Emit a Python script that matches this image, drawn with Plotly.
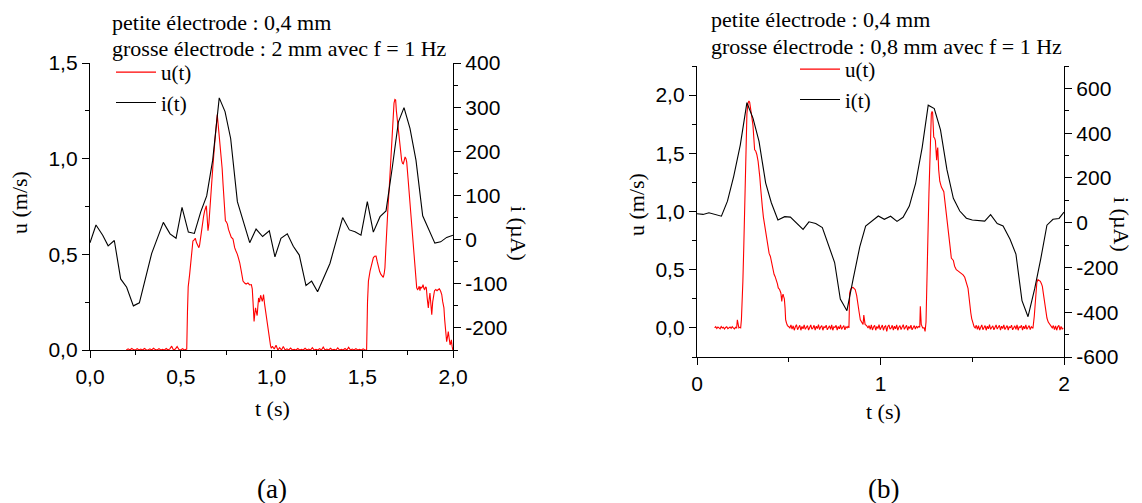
import plotly.graph_objects as go

W, H = 1142, 503

# ================= Panel (a) =================
# current i(t) in µA
a_i_t = [0.0, 0.033, 0.07, 0.10, 0.134, 0.169, 0.202, 0.239, 0.272, 0.34,
         0.404, 0.441, 0.474, 0.507, 0.542, 0.575, 0.61, 0.643, 0.676, 0.712,
         0.744, 0.775, 0.812, 0.88, 0.915, 0.951, 0.988, 1.019, 1.052, 1.087,
         1.12, 1.153, 1.19, 1.221, 1.254, 1.322, 1.392, 1.429, 1.46, 1.493,
         1.528, 1.561, 1.598, 1.631, 1.666, 1.699, 1.73, 1.763, 1.796, 1.833,
         1.90, 1.932, 1.965, 2.0]
a_i = [-7, 33, 10, -14, -2, -89, -108, -150, -143, -31,
       39, 13, 3, 73, 17, 14, 63, 99, 180, 321,
       290, 229, 86, -7, 24, 7, 20, -39, 3, 13,
       -15, -35, -104, -94, -118, -54, 50, 22, 18, 10,
       86, 17, 52, 65, 165, 266, 299, 252, 180, 54,
       -8, -5, 5, 10]

# velocity u(t) in m/s -- baseline segments sampled every a_dt
a_dt = 0.01
a_base1_t0 = 0.20
a_base1 = [0.0, 0.006, 0.0, 0.008, 0.002, 0.0, 0.007, 0.0, 0.005, 0.0, 0.008,
           0.001, 0.0, 0.006, 0.0, 0.009, 0.002, 0.0, 0.007, 0.0, 0.004, 0.0,
           0.008, 0.0, 0.006, 0.02, 0.0, 0.005, 0.018, 0.003, 0.0, 0.007, 0.0]
a_base2_t0 = 1.005
a_base2 = [0.02, 0.005, 0.025, 0.0, 0.012, 0.0, 0.018, 0.0, 0.006, 0.0, 0.01,
           0.0, 0.004, 0.0, 0.008, 0.0, 0.003, 0.0, 0.009, 0.0, 0.005, 0.0,
           0.012, 0.0, 0.004, 0.0, 0.007, 0.0, 0.015, 0.0, 0.005, 0.0, 0.009,
           0.0, 0.004, 0.0, 0.011, 0.0, 0.003, 0.0, 0.008, 0.0, 0.014, 0.0,
           0.005, 0.0, 0.007, 0.0, 0.004, 0.0, 0.006, 0.0]
# pulses
a_p1_t = [0.533, 0.537, 0.541, 0.549, 0.558, 0.567, 0.574, 0.58, 0.587, 0.594,
          0.6, 0.604, 0.61, 0.619, 0.626, 0.632, 0.637, 0.641, 0.645, 0.65,
          0.655, 0.661, 0.668, 0.677, 0.687, 0.695, 0.701, 0.707, 0.714, 0.718,
          0.723, 0.728, 0.733, 0.74, 0.746, 0.751, 0.757, 0.763, 0.77, 0.778,
          0.788, 0.793, 0.797, 0.803, 0.808, 0.812, 0.818, 0.825, 0.834, 0.843,
          0.852, 0.86, 0.87, 0.88, 0.889, 0.894, 0.898, 0.901, 0.904, 0.908,
          0.912, 0.916, 0.921, 0.925, 0.929, 0.934, 0.94, 0.945, 0.949, 0.953,
          0.956, 0.962, 0.968, 0.973, 0.977, 0.983, 0.99, 0.995, 0.999]
a_p1_u = [0.005, 0.2, 0.33, 0.395, 0.47, 0.57, 0.575, 0.584, 0.56, 0.545,
          0.535, 0.55, 0.60, 0.675, 0.70, 0.728, 0.74, 0.754, 0.70, 0.623,
          0.66, 0.76, 0.85, 0.96, 1.08, 1.17, 1.23, 1.17, 1.10, 1.07,
          1.026, 0.95, 0.868, 0.76, 0.675, 0.67, 0.658, 0.63, 0.605, 0.59,
          0.58, 0.55, 0.535, 0.52, 0.51, 0.5, 0.48, 0.456, 0.41, 0.36,
          0.35, 0.345, 0.35, 0.34, 0.342, 0.32, 0.254, 0.20, 0.149, 0.19,
          0.22, 0.20, 0.18, 0.23, 0.272, 0.25, 0.286, 0.27, 0.254, 0.27,
          0.29, 0.24, 0.20, 0.15, 0.114, 0.08, 0.044, 0.02, 0.009]
a_p2_t = [1.524, 1.529, 1.534, 1.543, 1.552, 1.561, 1.568, 1.576, 1.583, 1.589,
          1.596, 1.603, 1.61, 1.616, 1.621, 1.625, 1.63, 1.635, 1.642, 1.649,
          1.656, 1.662, 1.668, 1.675, 1.68, 1.684, 1.688, 1.693, 1.698, 1.704,
          1.71, 1.717, 1.722, 1.726, 1.731, 1.736, 1.741, 1.745, 1.752, 1.759,
          1.765, 1.772, 1.78, 1.787, 1.794, 1.80, 1.805, 1.809, 1.814, 1.818,
          1.822, 1.826, 1.831, 1.835, 1.84, 1.844, 1.849, 1.853, 1.858, 1.864,
          1.868, 1.873, 1.878, 1.883, 1.888, 1.892, 1.898, 1.905, 1.912, 1.919,
          1.925, 1.932, 1.938, 1.943, 1.947, 1.95, 1.954, 1.957, 1.961, 1.965,
          1.97, 1.974, 1.979, 1.984, 1.988, 1.991, 1.995, 1.999]
a_p2_u = [0.0, 0.25, 0.36, 0.412, 0.45, 0.482, 0.49, 0.491, 0.46, 0.43,
          0.41, 0.395, 0.385, 0.38, 0.40, 0.43, 0.53, 0.64, 0.75, 0.85,
          0.98, 1.096, 1.2, 1.29, 1.31, 1.307, 1.25, 1.20, 1.15, 1.096,
          1.04, 0.991, 0.975, 0.973, 0.99, 1.009, 1.0, 0.982, 0.9, 0.816,
          0.72, 0.623, 0.54, 0.465, 0.39, 0.325, 0.316, 0.32, 0.333, 0.31,
          0.33, 0.325, 0.33, 0.342, 0.32, 0.316, 0.33, 0.325, 0.27, 0.22,
          0.26, 0.298, 0.24, 0.184, 0.25, 0.29, 0.31, 0.316, 0.31, 0.316,
          0.32, 0.307, 0.29, 0.254, 0.24, 0.22, 0.16, 0.114, 0.07, 0.044,
          0.07, 0.096, 0.06, 0.026, 0.04, 0.053, 0.02, 0.0]

# ================= Panel (b) =================
b_i_t = [0.0, 0.033, 0.065, 0.133, 0.166, 0.2, 0.236, 0.272, 0.305, 0.338,
         0.374, 0.405, 0.441, 0.478, 0.509, 0.578, 0.61, 0.647, 0.683, 0.714,
         0.75, 0.781, 0.817, 0.85, 0.887, 0.919, 0.956, 0.988, 1.021, 1.055,
         1.09, 1.123, 1.157, 1.191, 1.227, 1.26, 1.293, 1.327, 1.362, 1.397,
         1.432, 1.468, 1.50, 1.568, 1.60, 1.636, 1.668, 1.706, 1.738, 1.771,
         1.804, 1.84, 1.873, 1.907, 1.94, 1.973, 2.0]
b_i = [40, 37, 44, 29, 96, 207, 348, 536, 467, 363,
       178, 89, 12, 27, 25, -30, 4, -4, -22, -96,
       -178, -341, -393, -255, -108, -15, 7, 30, 15, 29,
       6, 24, 74, 174, 335, 525, 510, 415, 237, 109,
       52, 20, 12, 7, 36, -4, -15, -74, -140, -348,
       -420, -296, -163, -11, 15, 19, 47]

b_dt = 0.006
b_base1_t0 = 0.096
b_base1 = [0.0, 0.01, -0.005, 0.008, 0.0, -0.008, 0.012, 0.0, 0.006, -0.01,
           0.004, 0.01, -0.006, 0.0, 0.008, -0.004, 0.01, 0.0, -0.008, 0.005]
b_base2_t0 = 0.506
b_base2 = [0.0, 0.025, -0.01, 0.018, -0.02, 0.01, 0.028, -0.015, 0.005, 0.022,
           -0.02, 0.012, -0.008, 0.026, -0.012, 0.004, 0.02, -0.018, 0.01, 0.025,
           -0.01, 0.0, 0.022, -0.02, 0.015, -0.006, 0.028, -0.014, 0.008, 0.02,
           -0.02, 0.012, 0.0, 0.024, -0.016, 0.006, 0.018, -0.012, 0.026, -0.02,
           0.01, 0.004, 0.022, -0.018, 0.012, -0.008, 0.025, -0.012, 0.006, 0.02,
           -0.016, 0.01, 0.0, 0.015]
b_base3_t0 = 0.938
b_base3 = [0.02, -0.012, 0.026, -0.018, 0.008, 0.022, -0.02, 0.012, -0.006, 0.028,
           -0.015, 0.004, 0.024, -0.02, 0.01, 0.018, -0.03, 0.012, 0.025, -0.01,
           0.0, 0.022, -0.018, 0.014, -0.008, 0.026, -0.02, 0.006, 0.02, -0.014,
           0.01, 0.028, -0.012, 0.004, 0.022, -0.02, 0.012, -0.006, 0.024, -0.016,
           0.008, 0.02, -0.01, 0.015, 0.0, 0.012, 0.005]
b_base4_t0 = 1.516
b_base4 = [0.0, 0.022, -0.012, 0.02, -0.018, 0.01, 0.026, -0.015, 0.006, 0.02,
           -0.02, 0.014, -0.008, 0.028, -0.012, 0.004, 0.018, -0.016, 0.012, 0.025,
           -0.01, 0.002, 0.022, -0.02, 0.015, -0.006, 0.026, -0.014, 0.01, 0.02,
           -0.018, 0.012, 0.0, 0.024, -0.016, 0.008, 0.018, -0.012, 0.026, -0.02,
           0.01, 0.004, 0.022, -0.018, 0.014, -0.008, 0.025, -0.012, 0.006, 0.02,
           -0.014, 0.01, 0.0]
b_base5_t0 = 1.936
b_base5 = [0.0, 0.02, -0.015, 0.018, -0.02, 0.01, 0.022, -0.018, 0.012, -0.01, 0.0]

b_p1_t = [0.216, 0.22, 0.224, 0.228, 0.233, 0.238, 0.242, 0.246, 0.25, 0.255,
          0.26, 0.266, 0.272, 0.278, 0.283, 0.287, 0.292, 0.298, 0.305, 0.31,
          0.314, 0.32, 0.326, 0.333, 0.338, 0.342, 0.347, 0.351, 0.356, 0.362,
          0.369, 0.376, 0.382, 0.387, 0.393, 0.40, 0.407, 0.414, 0.42, 0.426,
          0.433, 0.438, 0.443, 0.45, 0.457, 0.46, 0.462, 0.465, 0.469, 0.472,
          0.476, 0.48, 0.483, 0.488, 0.493, 0.5]
b_p1_u = [0.0, 0.07, 0.02, 0.0, 0.005, 0.0, 0.07, 0.2, 0.4, 0.7,
          1.01, 1.45, 1.84, 1.93, 1.95, 1.94, 1.90, 1.82, 1.74, 1.6,
          1.53, 1.52, 1.49, 1.43, 1.38, 1.30, 1.2, 1.10, 1.04, 0.95,
          0.87, 0.8, 0.742, 0.68, 0.64, 0.614, 0.55, 0.485, 0.46, 0.44,
          0.414, 0.38, 0.343, 0.33, 0.30, 0.26, 0.228, 0.27, 0.29, 0.27,
          0.25, 0.17, 0.07, 0.04, 0.02, 0.01]
b_p2_t = [0.828, 0.832, 0.837, 0.843, 0.85, 0.856, 0.862, 0.87, 0.878, 0.884,
          0.89, 0.896, 0.901, 0.905, 0.909, 0.912, 0.916, 0.924, 0.932]
b_p2_u = [0.0, 0.30, 0.33, 0.345, 0.348, 0.34, 0.33, 0.28, 0.214, 0.13,
          0.07, 0.05, 0.04, 0.03, 0.11, 0.05, 0.03, 0.02, 0.0]
b_p3_t = [1.217, 1.222, 1.23, 1.238, 1.243, 1.248, 1.253, 1.258, 1.264, 1.27,
          1.277, 1.281, 1.284, 1.29, 1.295, 1.299, 1.303, 1.306, 1.309, 1.312,
          1.317, 1.323, 1.332, 1.338, 1.345, 1.35, 1.355, 1.362, 1.368, 1.372,
          1.379, 1.386, 1.39, 1.397, 1.404, 1.413, 1.422, 1.43, 1.44, 1.45,
          1.459, 1.465, 1.471, 1.477, 1.482, 1.486, 1.492, 1.497, 1.504, 1.51]
b_p3_u = [0.185, 0.03, 0.0, 0.0, -0.03, 0.05, 0.30, 0.75, 1.157, 1.55,
          1.84, 1.86, 1.85, 1.64, 1.63, 1.61, 1.50, 1.44, 1.52, 1.55,
          1.36, 1.26, 1.21, 1.19, 1.17, 1.10, 1.04, 0.93, 0.84, 0.81,
          0.70, 0.6, 0.59, 0.58, 0.53, 0.50, 0.49, 0.48, 0.47, 0.455,
          0.435, 0.40, 0.37, 0.34, 0.27, 0.185, 0.13, 0.08, 0.03, 0.01]
b_p4_t = [1.831, 1.838, 1.846, 1.852, 1.858, 1.865, 1.871, 1.877, 1.882, 1.888,
          1.895, 1.90, 1.907, 1.914, 1.922, 1.93]
b_p4_u = [0.0, 0.1, 0.30, 0.39, 0.414, 0.41, 0.40, 0.38, 0.357, 0.29,
          0.214, 0.14, 0.085, 0.05, 0.03, 0.01]

# ticks
a_x_ticks = [0.0, 0.5, 1.0, 1.5, 2.0]
a_x_labels = ["0,0", "0,5", "1,0", "1,5", "2,0"]
a_x_minor = [0.25, 0.75, 1.25, 1.75]
a_u_ticks = [0.0, 0.5, 1.0, 1.5]
a_u_labels = ["0,0", "0,5", "1,0", "1,5"]
a_u_minor = [0.25, 0.75, 1.25]
a_i_ticks = [-200, -100, 0, 100, 200, 300, 400]
a_i_labels = ["-200", "-100", "0", "100", "200", "300", "400"]
a_i_minor = [-250, -150, -50, 50, 150, 250, 350]
b_x_ticks = [0, 1, 2]
b_x_labels = ["0", "1", "2"]
b_x_minor = [0.5, 1.5]
b_u_ticks = [0.0, 0.5, 1.0, 1.5, 2.0]
b_u_labels = ["0,0", "0,5", "1,0", "1,5", "2,0"]
b_u_minor = [-0.25, 0.25, 0.75, 1.25, 1.75, 2.25]
b_i_ticks = [-600, -400, -200, 0, 200, 400, 600]
b_i_labels = ["-600", "-400", "-200", "0", "200", "400", "600"]
b_i_minor = [-500, -300, -100, 100, 300, 500, 700]


def base_seg(t0, dt, vals):
    return [round(t0 + k * dt, 4) for k in range(len(vals))], list(vals)


def pair(ts, us):
    n = min(len(ts), len(us))
    return list(ts[:n]), list(us[:n])


def assemble(parts):
    T, U = [], []
    for ts, us in parts:
        T += ts
        U += us
    return T, U


a_u_t, a_u = assemble([
    base_seg(a_base1_t0, a_dt, a_base1), pair(a_p1_t, a_p1_u),
    base_seg(a_base2_t0, a_dt, a_base2), pair(a_p2_t, a_p2_u)])
b_u_t, b_u = assemble([
    base_seg(b_base1_t0, b_dt, b_base1), pair(b_p1_t, b_p1_u),
    base_seg(b_base2_t0, b_dt, b_base2), pair(b_p2_t, b_p2_u),
    base_seg(b_base3_t0, b_dt, b_base3), pair(b_p3_t, b_p3_u),
    base_seg(b_base4_t0, b_dt, b_base4), pair(b_p4_t, b_p4_u),
    base_seg(b_base5_t0, b_dt, b_base5)])

RED = "#ff0000"
SERIF = "Liberation Serif, Times New Roman, serif"
SANS = "Liberation Sans, Arial, sans-serif"

fig = go.Figure()
fig.add_trace(go.Scatter(x=a_u_t, y=a_u, mode="lines", name="u(t)",
                         line=dict(color=RED, width=1.1), xaxis="x", yaxis="y",
                         legend="legend"))
fig.add_trace(go.Scatter(x=a_i_t, y=a_i, mode="lines", name="i(t)",
                         line=dict(color="black", width=1.1), xaxis="x", yaxis="y2",
                         legend="legend"))
fig.add_trace(go.Scatter(x=b_u_t, y=b_u, mode="lines", name="u(t)",
                         line=dict(color=RED, width=1.1), xaxis="x2", yaxis="y3",
                         legend="legend2"))
fig.add_trace(go.Scatter(x=b_i_t, y=b_i, mode="lines", name="i(t)",
                         line=dict(color="black", width=1.1), xaxis="x2", yaxis="y4",
                         legend="legend2"))

LW = 1.3


def axis(ticks, labels, minor, rng, **kw):
    d = dict(range=rng, tickmode="array", tickvals=ticks, ticktext=labels,
             showline=True, linecolor="black", linewidth=LW, ticks="outside",
             ticklen=7, tickwidth=LW, tickcolor="black", showgrid=False,
             zeroline=False, fixedrange=True, automargin=False,
             tickfont=dict(family=SANS, size=21, color="black"),
             minor=dict(tickvals=minor, ticks="outside", ticklen=4,
                        tickwidth=LW, tickcolor="black", showgrid=False))
    d.update(kw)
    return d


leg_common = dict(xanchor="left", yanchor="top", bgcolor="rgba(0,0,0,0)",
                  borderwidth=0, tracegroupgap=0, itemwidth=40,
                  font=dict(family=SERIF, size=21, color="black"))

fig.update_layout(
    width=W, height=H,
    margin=dict(l=0, r=0, t=0, b=0, pad=0, autoexpand=False),
    paper_bgcolor="white", plot_bgcolor="white",
    xaxis=axis(a_x_ticks, a_x_labels, a_x_minor, [0, 2],
               domain=[90 / W, 453 / W], anchor="y", ticklabelstandoff=1),
    yaxis=axis(a_u_ticks, a_u_labels, a_u_minor, [0, 1.5],
               domain=[1 - 350 / H, 1 - 63 / H], anchor="x"),
    yaxis2=axis(a_i_ticks, a_i_labels, a_i_minor, [-250, 400],
                overlaying="y", side="right", anchor="x"),
    xaxis2=axis(b_x_ticks, b_x_labels, b_x_minor, [0, 2],
                domain=[697 / W, 1064 / W], anchor="y3", ticklabelstandoff=1),
    yaxis3=axis(b_u_ticks, b_u_labels, b_u_minor, [-0.25, 2.25],
                domain=[1 - 357 / H, 1 - 66 / H], anchor="x2"),
    yaxis4=axis(b_i_ticks, b_i_labels, b_i_minor, [-600, 700],
                overlaying="y3", side="right", anchor="x2"),
    legend=dict(x=111 / W, y=1 - 52 / H, **leg_common),
    legend2=dict(x=795 / W, y=1 - 49 / H, **leg_common),
    showlegend=True,
)

ann_font = dict(family=SERIF, size=22, color="black")
texts = [
    ("petite électrode : 0,4 mm", 110, 22, 0, "left"),
    ("grosse électrode : 2 mm avec f = 1 Hz", 110, 48, 0, "left"),
    ("petite électrode : 0,4 mm", 709, 20, 0, "left"),
    ("grosse électrode : 0,8 mm avec f = 1 Hz", 709, 46, 0, "left"),
    ("u (m/s)", 20, 203, -90, "center"),
    ("i (µA)", 519, 233, 90, "center"),
    ("t (s)", 272, 408, 0, "center"),
    ("u (m/s)", 636, 205, -90, "center"),
    ("i (µA)", 1122, 224, 90, "center"),
    ("t (s)", 883, 411, 0, "center"),
]
anns = []
for txt, x, y, ang, xa in texts:
    anns.append(dict(text=txt, x=x / W, y=1 - y / H, xref="paper", yref="paper",
                     xanchor=xa, yanchor="middle", textangle=ang, showarrow=False,
                     font=ann_font))
for txt, x in [("(a)", 272), ("(b)", 883)]:
    anns.append(dict(text=txt, x=x / W, y=1 - 489 / H, xref="paper", yref="paper",
                     xanchor="center", yanchor="middle", showarrow=False,
                     font=dict(family=SERIF, size=27, color="black")))
fig.update_layout(annotations=anns)

# remove the default 8px page margin so the figure sits at the window origin
fig.write_html("out.html",
               config={"displayModeBar": False},
               post_script="document.body.style.margin='0';document.body.style.padding='0';")
